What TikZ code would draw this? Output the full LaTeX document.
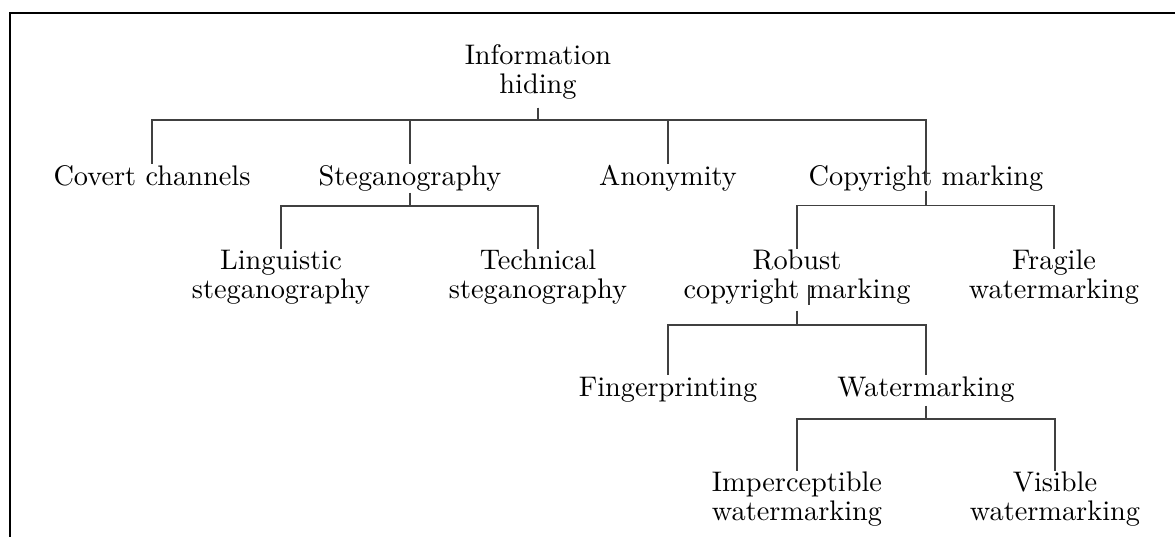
\documentclass[tikz,border=0pt]{standalone}
\usepackage{tikz}
\begin{document}
\begin{tikzpicture}[x=0.353pt,y=-0.353pt,
  treenode/.style={inner sep=0pt,align=center,anchor=base,
    font=\fontsize{10pt}{10.1pt}\selectfont},
  oneline/.style={treenode,text height=7.2pt},
  branch/.style={line width=0.5pt,draw=black!75}]
\useasboundingbox (0,0) rectangle (1175,536);
\clip (0,0) rectangle (1175,536);
% outer frame (runs past the right and bottom edges)
\draw[line width=1pt] (10,13) rectangle (1220,580);

% level 0 (two-line nodes sit on their last baseline)
\node[treenode] (ih) at (538,93) {Information\\hiding};
% level 1
\node[oneline] (cc) at (152,185) {Covert channels};
\node[oneline] (st) at (410,185) {Steganography};
\node[oneline] (an) at (668,185) {Anonymity};
\node[oneline] (cm) at (926,185) {Copyright marking};
% level 2
\node[treenode] (ls) at (281,298) {Linguistic\\steganography};
\node[treenode] (ts) at (538,298) {Technical\\steganography};
\node[treenode] (rc) at (797,298) {Robust\\copyright marking};
\node[treenode] (fw) at (1054,298) {Fragile\\watermarking};
% level 3
\node[oneline] (fp) at (668,396) {Fingerprinting};
\node[oneline] (wm) at (926,396) {Watermarking};
% level 4
\node[treenode] (iw) at (797,520) {Imperceptible\\watermarking};
\node[treenode] (vw) at (1055,520) {Visible\\watermarking};

% branches
\draw[branch] ([yshift=-3pt]ih.south) -- ++(0,12) -| (cc.north);
\draw[branch] ([yshift=-3pt]ih.south) -- ++(0,12) -| (st.north);
\draw[branch] ([yshift=-3pt]ih.south) -- ++(0,12) -| (an.north);
\draw[branch] ([yshift=-3pt]ih.south) -- ++(0,12) -| ([yshift=1pt]cm.base);

\draw[branch] ([yshift=-0.5pt]st.south) -- ++(0,13) -| (ls.north);
\draw[branch] ([yshift=-0.5pt]st.south) -- ++(0,13) -| (ts.north);

\draw[branch] (cm.south) -- ++(0,14) -| (rc.north);
\draw[branch] (cm.south) -- ++(0,14) -| (fw.north);

\draw[branch] ([yshift=-2.3pt]rc.south) -- ++(0,14) -| (fp.north);
\draw[branch] ([yshift=-2.3pt]rc.south) -- ++(0,14) -| (wm.north);
\draw[branch] ([shift={(4.2pt,4.6pt)}]rc.base) -- ++(0,20);

\draw[branch] ([yshift=-1.2pt]wm.south) -- ++(0,13) -| (iw.north);
\draw[branch] ([yshift=-1.2pt]wm.south) -- ++(0,13) -| (vw.north);
\end{tikzpicture}
\end{document}
